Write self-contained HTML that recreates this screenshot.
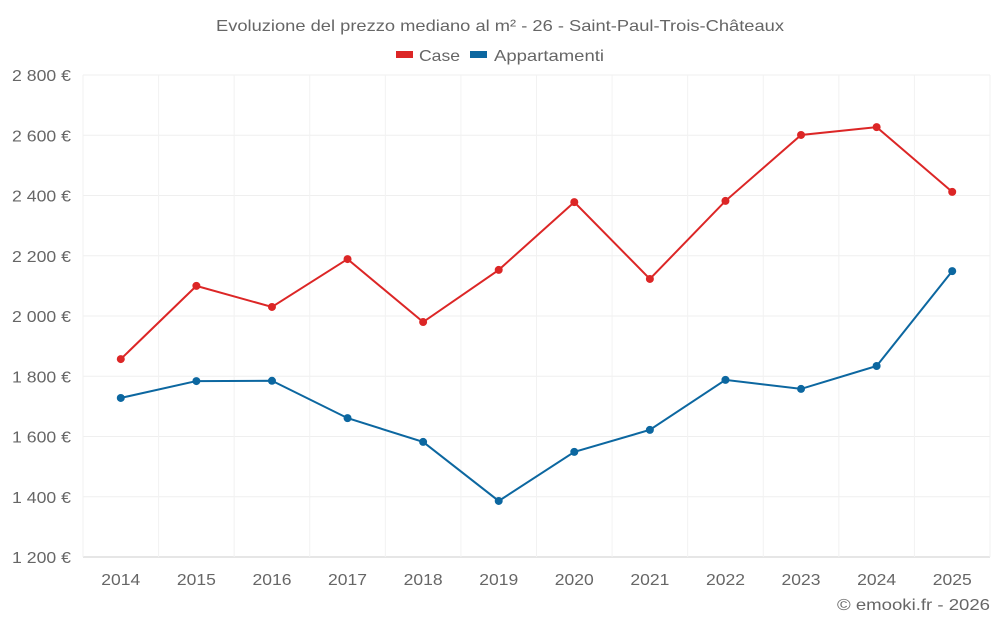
<!DOCTYPE html>
<html><head><meta charset="utf-8"><style>
body{margin:0;background:#fff;font-family:"Liberation Sans",sans-serif}
svg text{font-family:"Liberation Sans",sans-serif;fill:#666}
</style></head><body>
<svg id="c" width="1000" height="625">
<text x="500" y="31" text-anchor="middle" font-size="16" textLength="568" lengthAdjust="spacingAndGlyphs">Evoluzione del prezzo mediano al m² - 26 - Saint-Paul-Trois-Châteaux</text>
<g>
<rect x="396" y="51" width="17" height="7" fill="#dc2626"/>
<text x="419" y="61" font-size="16" textLength="41" lengthAdjust="spacingAndGlyphs">Case</text>
<rect x="470" y="51" width="17" height="7" fill="#0c67a0"/>
<text x="494" y="61" font-size="16" textLength="110" lengthAdjust="spacingAndGlyphs">Appartamenti</text>
</g>
<g id="grid"></g><g id="axes"></g><g id="series"></g>
<text x="990" y="610" text-anchor="end" font-size="16" textLength="153" lengthAdjust="spacingAndGlyphs">© emooki.fr - 2026</text>
</svg>
<script>
const years=[2014,2015,2016,2017,2018,2019,2020,2021,2022,2023,2024,2025];
const caseVals=[1857,2100,2030,2189,1980,2153,2378,2123,2382,2601,2627,2412];
const appVals=[1728,1784,1785,1661,1582,1386,1549,1622,1788,1758,1834,2149];
const yTicks=[1200,1400,1600,1800,2000,2200,2400,2600,2800];
const NS="http://www.w3.org/2000/svg";
const L=83,R=990,T=75,B=557,ymin=1200,ymax=2800;
const step=(R-L)/years.length;
const x=i=>L+step*(i+0.5);
const y=v=>B-(v-ymin)/(ymax-ymin)*(B-T);
function mk(tag,attrs,parent,txt){const e=document.createElementNS(NS,tag);for(const k in attrs)e.setAttribute(k,attrs[k]);if(txt!==undefined)e.textContent=txt;document.getElementById(parent).appendChild(e);return e;}
const fmt=v=>String(v).replace(/\B(?=(\d{3})+$)/,' ')+' €';
yTicks.forEach(t=>{
 const g=mk('line',{x1:L,x2:R,y1:y(t),y2:y(t),stroke:t===ymin?'#ccc':'#efefef'},'grid');
 
 
 const lb=mk('text',{x:71,y:y(t)+6,'text-anchor':'end','font-size':16,textLength:59,lengthAdjust:'spacingAndGlyphs'},'axes',fmt(t));
 
 
});
for(let i=0;i<=years.length;i++){
 const g=mk('line',{x1:L+step*i,x2:L+step*i,y1:T,y2:B,stroke:'#f2f2f2'},'grid');
 
 
}
years.forEach((yr,i)=>{
 const lb=mk('text',{x:x(i),y:585,'text-anchor':'middle','font-size':16,textLength:39,lengthAdjust:'spacingAndGlyphs'},'axes',yr);
 
 
});
function series(vals,color,name){
 const p=mk('polyline',{points:vals.map((v,i)=>x(i)+','+y(v)).join(' '),fill:'none',stroke:color,'stroke-width':2},'series');
 
 
 vals.forEach((v,i)=>{
  const c=mk('circle',{cx:x(i),cy:y(v),r:4,fill:color},'series');
  
  
 });
}
series(caseVals,'#dc2626','case');
series(appVals,'#0c67a0','appartamenti');
</script>
</body></html>
